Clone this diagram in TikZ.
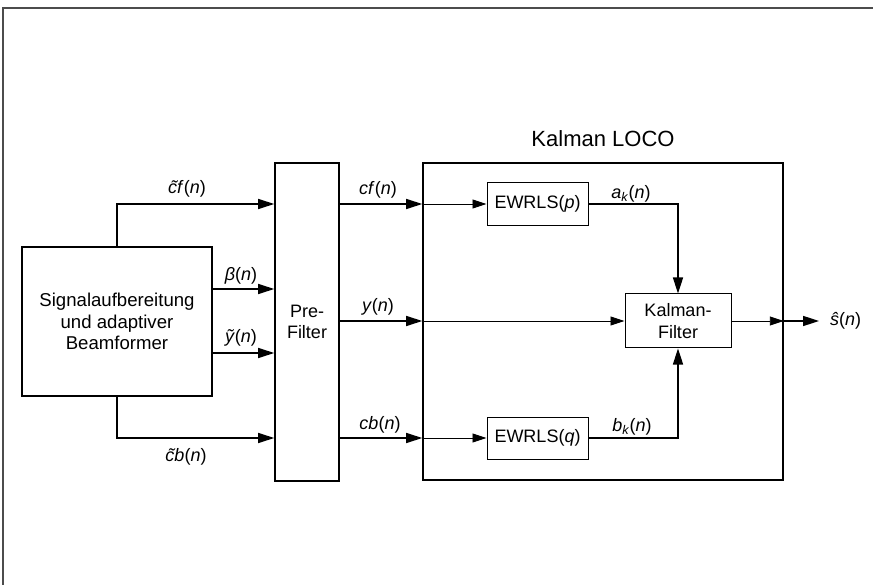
\documentclass[tikz,border=0pt]{standalone}
\usepackage{fontspec}
\setmainfont{Liberation Sans}
\usetikzlibrary{arrows.meta}
\begin{document}
\begin{tikzpicture}[x=1pt,y=-1pt,
  every node/.style={font=\fontsize{18}{21.5}\selectfont},
  bigbox/.style={draw, line width=1.6pt, inner sep=0pt},
  smallbox/.style={draw, line width=1pt, inner sep=0pt},
  thk/.style={line width=1.6pt},
  thn/.style={line width=0.9pt},
  arr/.style={-{Triangle[length=16pt,width=10pt]}},
  sarr/.style={-{Triangle[length=14pt,width=9pt]}},
  lbl/.style={inner sep=1pt},
  wt/.style={font=\fontsize{18}{21.5}\selectfont}]
\useasboundingbox (0,0) rectangle (873,585);
\draw[gray!60!black, line width=1.2pt] (873,8) -- (3,8) -- (3,585);

% blocks
\node[bigbox, minimum width=190pt, minimum height=149pt, align=center, font=\fontsize{18.6}{21.5}\selectfont] (sig) at (117,321.5) {Signalaufbereitung\\und adaptiver\\Beamformer};
\node[bigbox, minimum width=64pt, minimum height=318pt, align=center] (pre) at (307,322) {Pre-\\Filter};
\node[bigbox, minimum width=360pt, minimum height=317pt] (loco) at (603,321.5) {};
\node[font=\fontsize{22}{26}\selectfont] (title) at (603,139) {Kalman LOCO};
\node[smallbox, minimum width=101pt, minimum height=43pt] (ew1) at (537.5,204) {EWRLS(\textit{p})};
\node[smallbox, minimum width=101pt, minimum height=42pt] (ew2) at (537.5,438) {EWRLS(\textit{q})};
\node[smallbox, minimum width=106pt, minimum height=54pt, align=center] (kf) at (678,321) {Kalman-\\Filter};

% row coordinates
\coordinate (ycf) at (0,204);
\coordinate (yb) at (0,289);
\coordinate (yy) at (0,321);
\coordinate (yt) at (0,353);
\coordinate (ycb) at (0,438);

% labels
\node[lbl] (lcf) at (187,189) {\textit{\~{c}f}(\textit{n})};
\node[lbl] (lb) at (241,276) {\textit{β}(\textit{n})};
\node[lbl] (lyt) at (241,338) {\textit{\~{y}}(\textit{n})};
\node[lbl] (lcb) at (186,457) {\textit{\~{c}b}(\textit{n})};
\node[lbl] (lcf2) at (378,190) {\textit{cf}(\textit{n})};
\node[lbl] (ly) at (378,307) {\textit{y}(\textit{n})};
\node[lbl] (lcb2) at (380,425) {\textit{cb}(\textit{n})};
\node[lbl] (la) at (631,194) {\textit{a}\textsubscript{\textit{k}}(\textit{n})};
\node[lbl] (lbk) at (632,427) {\textit{b}\textsubscript{\textit{k}}(\textit{n})};
\node[lbl, anchor=west] (sout) at (829,321) {\textit{\^{s}}(\textit{n})};

% connectors
\draw[thk,arr] (sig.north) |- (pre.west |- ycf);
\draw[thk,arr] (sig.east |- yb) -- (pre.west |- yb);
\draw[thk,arr] (sig.east |- yt) -- (pre.west |- yt);
\draw[thk,arr] (sig.south) |- (pre.west |- ycb);
\draw[thk,arr] (pre.east |- ycf) -- (loco.west |- ycf);
\draw[thn,sarr] (loco.west |- ycf) -- (ew1.west);
\draw[thk,arr] (pre.east |- yy) -- (loco.west |- yy);
\draw[thn,sarr] (loco.west |- yy) -- (kf.west);
\draw[thk,arr] (pre.east |- ycb) -- (loco.west |- ycb);
\draw[thn,sarr] (loco.west |- ycb) -- (ew2.west);
\draw[thk,arr] (ew1.east) -| (kf.north);
\draw[thk,arr] (ew2.east) -| (kf.south);
\draw[thn,sarr] (kf.east) -- (loco.east |- kf.east);
\draw[thk,arr,shorten >=10pt] (loco.east |- kf.east) -- (sout.west);
\end{tikzpicture}
\end{document}
